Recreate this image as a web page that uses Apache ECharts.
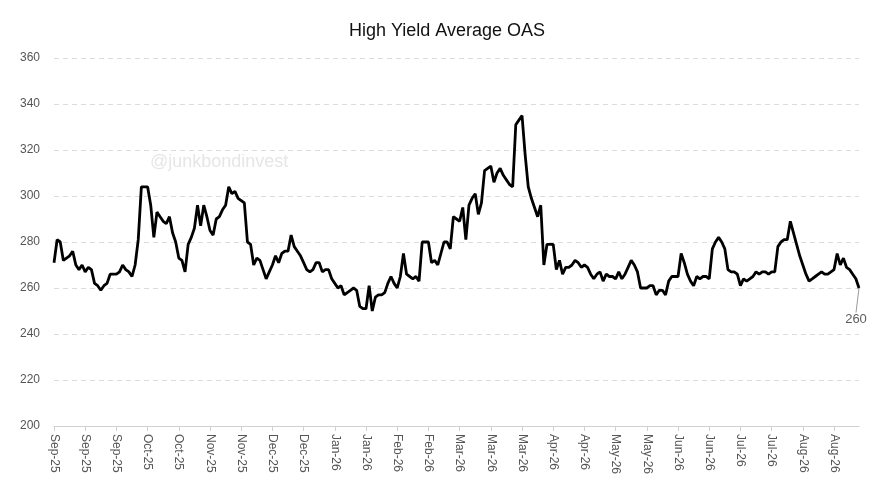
<!DOCTYPE html>
<html>
<head>
<meta charset="utf-8">
<script src="https://cdn.jsdelivr.net/npm/echarts@6/dist/echarts.min.js"></script>
<style>
  html, body { margin: 0; padding: 0; background: #fff; }
  #main { width: 894px; height: 504px; }
</style>
</head>
<body>
<div id="main"></div>
<script>
// daily high yield OAS (bps), one value per business day from 2 Sep 2025
var oasValues = [
    271, 281, 280, 272, 273, 274, 276, 270, 268, 270,
    267, 269, 268, 262, 261, 259, 261, 262, 266, 266,
    266, 267, 270, 268, 267, 265, 270, 281, 304, 304,
    304, 296, 282, 293, 291, 289, 288, 291, 284, 280,
    273, 272, 267, 279, 282, 286, 296, 287, 296, 291,
    285, 283, 290, 291, 294, 296, 304, 301, 302, 299,
    298, 297, 280, 279, 270, 273, 272, 268, 264, 267,
    270, 274, 271, 275, 276, 276, 283, 278, 276, 274,
    271, 268, 267, 268, 271, 271, 267, 268, 268, 264,
    262, 260, 261, 257, 258, 259, 260, 259, 252, 251,
    251, 261, 250, 256, 257, 257, 258, 262, 265, 262,
    260, 265, 275, 266, 265, 264, 265, 263, 280, 280,
    280, 271, 272, 270, 275, 280, 280, 277, 291, 290,
    289, 295, 281, 296, 299, 301, 292, 297, 311, 312,
    313, 306, 310, 312, 309, 307, 305, 304, 331, 333,
    335, 318, 304, 299, 295, 291, 296, 270, 279, 279,
    279, 268, 272, 266, 269, 269, 270, 272, 271, 269,
    270, 269, 266, 264, 266, 267, 263, 266, 265, 265,
    264, 267, 264, 266, 269, 272, 270, 267, 260, 260,
    260, 261, 261, 257, 259, 259, 257, 263, 265, 265,
    265, 275, 271, 266, 263, 261, 265, 264, 265, 265,
    264, 277, 280, 282, 280, 277, 268, 267, 267, 266,
    261, 264, 263, 264, 265, 267, 266, 267, 267, 266,
    267, 267, 278, 280, 281, 281, 289, 284, 279, 274,
    270, 266, 263, 264, 265, 266, 267, 266, 266, 267,
    268, 275, 270, 273, 269, 268, 266, 264, 260
];
var monthNames = ['Jan', 'Feb', 'Mar', 'Apr', 'May', 'Jun',
                  'Jul', 'Aug', 'Sep', 'Oct', 'Nov', 'Dec'];
var startDate = [2025, 8, 2];   // year, month index, day
var yTicks = { min: 200, max: 360, step: 20 };

// business day labels like "Sep-25"
function businessDays(n) {
    var out = [];
    var d = new Date(startDate[0], startDate[1], startDate[2]);
    while (out.length < n) {
        var wd = d.getDay();
        if (wd !== 0 && wd !== 6) {
            out.push(monthNames[d.getMonth()] + '-' + String(d.getFullYear()).slice(2));
        }
        d.setDate(d.getDate() + 1);
    }
    return out;
}

var dates = businessDays(oasValues.length);
var lastIdx = oasValues.length - 1;
var font = 'Liberation Sans, Arial, sans-serif';

var myChart = echarts.init(document.getElementById('main'));
var option = {
    backgroundColor: '#fff',
    animation: false,
    title: {
        text: 'High Yield Average OAS',
        left: 'center',
        top: 17,
        textStyle: { fontFamily: font, fontSize: 18, fontWeight: 'normal', color: '#111' }
    },
    graphic: [{
        type: 'text',
        left: 150,
        top: 153,
        style: { text: '@junkbondinvest', font: '18px ' + font, fill: '#e6e6e6' }
    }],
    grid: { left: 54, right: 35, top: 58, bottom: 78 },
    xAxis: {
        type: 'category',
        data: dates,
        boundaryGap: false,
        axisLine: { lineStyle: { color: '#d0d0d0' } },
        axisTick: { interval: 9, length: 5, lineStyle: { color: '#d0d0d0' } },
        axisLabel: {
            interval: 9,
            rotate: -90,
            color: '#555',
            fontFamily: font,
            fontSize: 12,
            margin: 8
        },
        splitLine: { show: false }
    },
    yAxis: {
        type: 'value',
        min: yTicks.min,
        max: yTicks.max,
        interval: yTicks.step,
        axisLine: { show: false },
        axisTick: { show: false },
        axisLabel: { color: '#555', fontFamily: font, fontSize: 12, margin: 14 },
        splitLine: { lineStyle: { color: '#dcdcdc', type: [5, 4] } }
    },
    series: [{
        name: 'OAS',
        type: 'line',
        data: oasValues,
        showSymbol: false,
        lineStyle: { color: '#000', width: 2.8 },
        itemStyle: { color: '#000' },
        z: 3
    }, {
        name: 'last',
        type: 'scatter',
        data: [[lastIdx, oasValues[lastIdx]]],
        symbolSize: 1,
        itemStyle: { color: '#000' },
        label: {
            show: true,
            position: 'bottom',
            distance: 4,
            formatter: function (p) { return p.value[1]; },
            color: '#333',
            fontFamily: font,
            fontSize: 13
        },
        labelLayout: { dx: -3, dy: 20 },
        labelLine: { show: true, length2: 0, lineStyle: { color: '#999', width: 1 } },
        z: 4
    }]
};
myChart.setOption(option);
</script>
</body>
</html>
